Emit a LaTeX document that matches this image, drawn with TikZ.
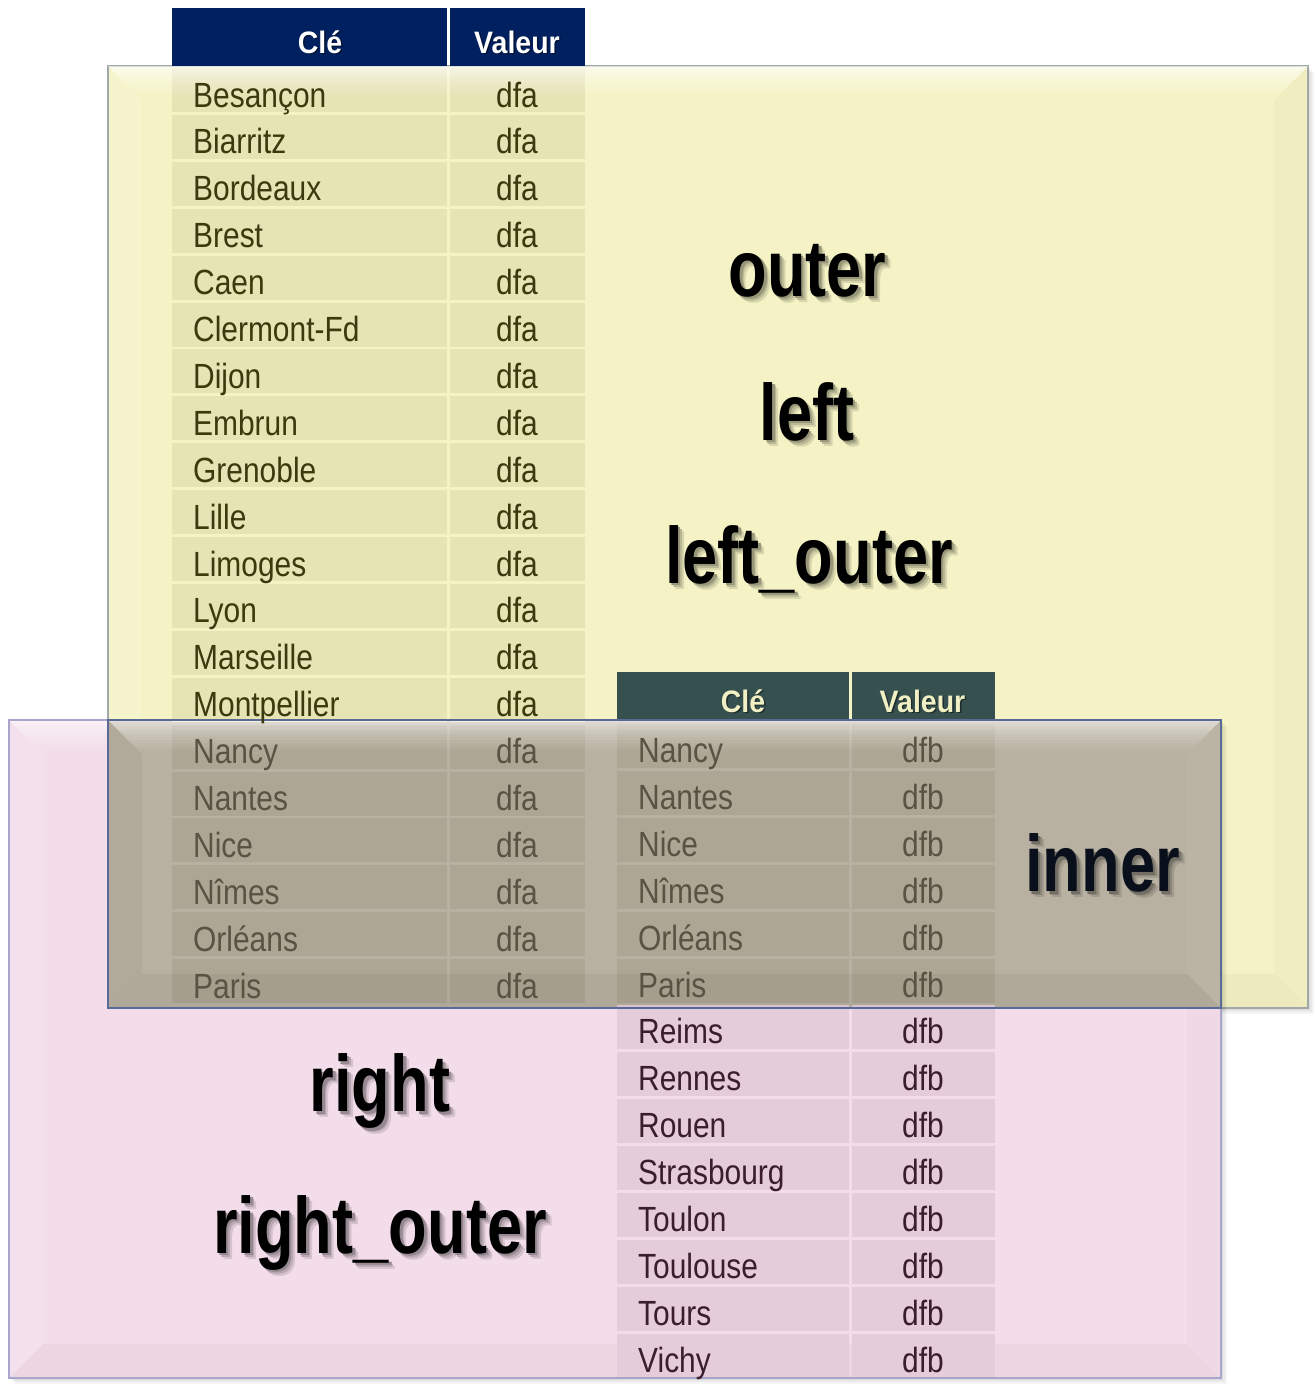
\documentclass[tikz,border=0pt]{standalone}
\usepackage{fontspec}
\newfontfamily\tblfont[FakeStretch=0.855]{Liberation Sans}
\newfontfamily\hdrfont[FakeStretch=0.92]{Liberation Sans}
\newfontfamily\lblfont[FakeStretch=0.79]{Liberation Sans}
\definecolor{ybg}{HTML}{F5F3C5}
\definecolor{ycell}{HTML}{E6E3B4}
\definecolor{ytext}{HTML}{3A3A0E}
\definecolor{pbg}{HTML}{F3DDEA}
\definecolor{pcell}{HTML}{E4CCDA}
\definecolor{ptext}{HTML}{3A1E30}
\definecolor{ibg}{HTML}{B8B1A1}
\definecolor{icell}{HTML}{ADA694}
\definecolor{itext}{HTML}{5A5343}
\definecolor{navyhdr}{HTML}{002060}
\definecolor{slatehdr}{HTML}{36504F}
\definecolor{slatetext}{HTML}{F0F0C4}
\definecolor{yborder}{HTML}{A0A8A8}
\definecolor{pborder}{HTML}{A8A6CC}
\definecolor{iborder}{HTML}{5A6A96}
\definecolor{innertext}{HTML}{0A0F1C}
\newcommand\shadowed[2]{%
  \rlap{\hspace{6pt}\raisebox{-6pt}{\textcolor{#1!88!black}{#2}}}%
  \rlap{\hspace{4pt}\raisebox{-4pt}{\textcolor{#1!76!black}{#2}}}%
  \rlap{\hspace{2.5pt}\raisebox{-2.5pt}{\textcolor{#1!62!black}{#2}}}%
  #2}
\newcommand\hdrshadow[2]{%
  \rlap{\hspace{1.5pt}\raisebox{-1.5pt}{\textcolor{#1!55!black}{#2}}}#2}
\begin{document}
\begin{tikzpicture}[x=1pt,y=-1pt,
  keytxt/.style={anchor=base west, inner sep=0pt, font=\tblfont\fontsize{35}{40}\selectfont},
  valtxt/.style={anchor=base, inner sep=0pt, font=\tblfont\fontsize{35}{40}\selectfont},
  hdrtxt/.style={anchor=base, inner sep=0pt, font=\hdrfont\bfseries\fontsize{31}{36}\selectfont},
  biglbl/.style={anchor=base, inner sep=0pt, font=\lblfont\bfseries\fontsize{80}{90}\selectfont},
]
\useasboundingbox (0,0) rectangle (1315,1387);
% ---------- yellow (outer / left) ----------
\foreach \o/\a in {2/0.06,4/0.05,6/0.04}{
  \fill[black,opacity=\a] (108+\o,66+\o) rectangle (1308+\o,1008+\o);
}
\fill[ybg] (108,66) rectangle (1308,1008);
\fill[white,opacity=0.12] (108,66) -- (142,100) -- (142,974) -- (108,1008) -- cycle;
\fill[black,opacity=0.018] (1308,66) -- (1274,100) -- (1274,974) -- (1308,1008) -- cycle;
\fill[black,opacity=0.03] (108,1008) -- (142,974) -- (1274,974) -- (1308,1008) -- cycle;
\draw[yborder,line width=2pt] (108,66) rectangle (1308,1008);
% ---------- left header ----------
\fill[navyhdr] (172,8) rectangle (447,66);
\fill[navyhdr] (450,8) rectangle (585,66);
% ---------- pink (right / right_outer) ----------
\foreach \o/\a in {2/0.06,4/0.05,6/0.04}{
  \fill[black,opacity=\a] (9+\o,720+\o) rectangle (1221+\o,1378+\o);
}
\fill[pbg] (9,720) rectangle (1221,1378);
\begin{scope}
  \clip (9,720) -- (1221,720) -- (1187,754) -- (43,754) -- cycle;
  \foreach \i in {0,...,11}{
    \pgfmathsetmacro\op{0.6*(1-\i/12)^1.5}
    \fill[white,opacity=\op] (9,{720+\i*34/12}) rectangle (1221,{720+(\i+1)*34/12});
  }
\end{scope}
\fill[white,opacity=0.1] (9,720) -- (43,754) -- (43,1344) -- (9,1378) -- cycle;
\fill[black,opacity=0.015] (1221,720) -- (1187,754) -- (1187,1344) -- (1221,1378) -- cycle;
\fill[black,opacity=0.03] (9,1378) -- (43,1344) -- (1187,1344) -- (1221,1378) -- cycle;
% ---------- inner overlap ----------
\fill[ibg] (108,720) rectangle (1221,1008);
% ---------- left table cells ----------
\foreach \k [count=\i from 0] in {Besançon,Biarritz,Bordeaux,Brest,Caen,Clermont-Fd,Dijon,Embrun,Grenoble,Lille,Limoges,Lyon,Marseille,Montpellier,Nancy,Nantes,Nice,Nîmes,Orléans,Paris}{
  \pgfmathsetmacro\t{68+46.9*\i}
  \ifnum\i<14 \def\cc{ycell}\else\def\cc{icell}\fi
  \fill[\cc] (172,\t) rectangle (447,{\t+44});
  \fill[\cc] (450,\t) rectangle (585,{\t+44});
}
% ---------- right table cells ----------
\fill[slatehdr] (617,672) rectangle (849,720);
\fill[slatehdr] (852,672) rectangle (995,720);
\foreach \k [count=\i from 0] in {Nancy,Nantes,Nice,Nîmes,Orléans,Paris,Reims,Rennes,Rouen,Strasbourg,Toulon,Toulouse,Tours,Vichy}{
  \pgfmathsetmacro\t{724+46.9*\i}
  \ifnum\i<6 \def\cc{icell}\else\def\cc{pcell}\fi
  \fill[\cc] (617,\t) rectangle (849,{\t+44});
  \fill[\cc] (852,\t) rectangle (995,{\t+44});
}
% ---------- yellow top bevel ----------
\begin{scope}
  \clip (108,66) -- (1308,66) -- (1274,100) -- (142,100) -- cycle;
  \foreach \i in {0,...,11}{
    \pgfmathsetmacro\op{0.65*(1-\i/12)^1.5}
    \fill[white,opacity=\op] (108,{66+\i*34/12}) rectangle (1308,{66+(\i+1)*34/12});
  }
\end{scope}
% ---------- inner bevels ----------
\begin{scope}
  \clip (108,720) -- (1221,720) -- (1187,754) -- (142,754) -- cycle;
  \foreach \i in {0,...,11}{
    \pgfmathsetmacro\op{0.55*(1-\i/12)^1.5}
    \fill[white,opacity=\op] (108,{720+\i*34/12}) rectangle (1221,{720+(\i+1)*34/12});
  }
\end{scope}
\fill[black,opacity=0.035] (108,720) -- (142,754) -- (142,974) -- (108,1008) -- cycle;
\fill[white,opacity=0.05] (1221,720) -- (1187,754) -- (1187,974) -- (1221,1008) -- cycle;
\fill[black,opacity=0.045] (108,1008) -- (142,974) -- (1187,974) -- (1221,1008) -- cycle;
% ---------- borders ----------
\draw[pborder,line width=2pt] (9,720) rectangle (1221,1378);
\draw[iborder,line width=2pt] (108,720) rectangle (1221,1008);
% ---------- header texts ----------
\node[hdrtxt,text=white] (lhk) at (320,53) {\hdrshadow{navyhdr}{Clé}};
\node[hdrtxt,text=white] (lhv) at (517,53) {\hdrshadow{navyhdr}{Valeur}};
\node[hdrtxt,text=slatetext] (rhk) at (743,712) {\hdrshadow{slatehdr}{Clé}};
\node[hdrtxt,text=slatetext] (rhv) at (922.5,712) {\hdrshadow{slatehdr}{Valeur}};
% ---------- table texts ----------
\foreach \k [count=\i from 0] in {Besançon,Biarritz,Bordeaux,Brest,Caen,Clermont-Fd,Dijon,Embrun,Grenoble,Lille,Limoges,Lyon,Marseille,Montpellier,Nancy,Nantes,Nice,Nîmes,Orléans,Paris}{
  \pgfmathsetmacro\t{68+46.9*\i+39}
  \ifnum\i<14 \def\tc{ytext}\else\def\tc{itext}\fi
  \node[keytxt,text=\tc] (lk\i) at (193,\t) {\k};
  \node[valtxt,text=\tc] (lv\i) at (517,\t) {dfa};
}
\foreach \k [count=\i from 0] in {Nancy,Nantes,Nice,Nîmes,Orléans,Paris,Reims,Rennes,Rouen,Strasbourg,Toulon,Toulouse,Tours,Vichy}{
  \pgfmathsetmacro\t{724+46.9*\i+38.5}
  \ifnum\i<6 \def\tc{itext}\else\def\tc{ptext}\fi
  \node[keytxt,text=\tc] (rk\i) at (638,\t) {\k};
  \node[valtxt,text=\tc] (rv\i) at (923,\t) {dfb};
}
% ---------- big labels ----------
\node[biglbl,text=black] (outer) at (807.5,296) {\shadowed{ybg}{outer}};
\node[biglbl,text=black] (left) at (807,440) {\shadowed{ybg}{left}};
\node[biglbl,text=black] (leftouter) at (809,583) {\shadowed{ybg}{left\_outer}};
\node[biglbl,text=innertext] (inner) at (1102.5,891.5) {\shadowed{ibg}{inner}};
\node[biglbl,text=black] (right) at (380,1111.5) {\shadowed{pbg}{right}};
\node[biglbl,text=black] (rightouter) at (380,1253) {\shadowed{pbg}{right\_outer}};
\end{tikzpicture}
\end{document}
